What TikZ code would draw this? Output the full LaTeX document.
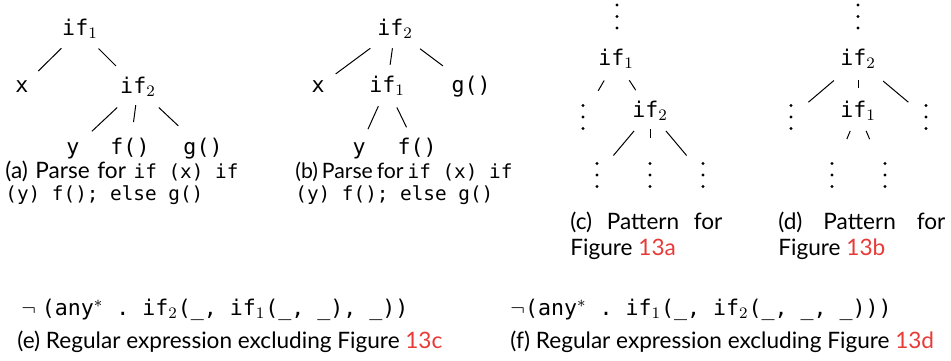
\documentclass[tikz,border=0pt]{standalone}
\usepackage{fontspec}
\setsansfont{Lato}
\setmonofont{DejaVu Sans Mono}
\usetikzlibrary{calc}
\definecolor{refred}{RGB}{232,58,55}
\newcommand\tedge[4]{\draw[edge] ($(#1)!#3!(#2)$) -- ($(#1)!#4!(#2)$);}
\newcommand\cm[1]{{\fontsize{9.67}{12}\selectfont\ttfamily #1}}
\newcommand\ex[1]{{\fontsize{10.8}{13}\selectfont\ttfamily #1}}
\newcommand\rref[1]{\textcolor{refred}{#1}}
\newcommand\fsp{\hskip 2pt plus 1fil\relax}
\newcommand\tsp{\hskip 2pt plus 1fil minus 1pt\relax}
\newcommand\vdn[3]{\node[vd] (#1) at (#2,#3) {};
  \fill (#1.center) ++(0,-11.5) circle[radius=1.6] (#1.center) circle[radius=1.6] (#1.center) ++(0,11.5) circle[radius=1.6];}
\begin{document}
\begin{tikzpicture}[x=0.5pt,y=-0.5pt,
  tl/.style={font=\fontsize{10.8}{13}\selectfont\ttfamily, inner sep=0pt, anchor=base, text height=7pt, text depth=2pt},
  vd/.style={inner sep=0pt, minimum width=4pt, minimum height=15pt, anchor=center},
  edge/.style={line width=0.5pt},
  captext/.style={font=\sffamily\fontsize{11.3}{13.5}\selectfont, inner sep=0pt, anchor=base west}]
\useasboundingbox (0,0) rectangle (951,360);
% (a)
\node[tl] (a1) at (80,35) {if$_1$};
\node[tl] (ax) at (22,92) {x};
\node[tl] (a2) at (138,93) {if$_2$};
\node[tl] (ay) at (73,154) {y};
\node[tl] (af) at (130,154) {f()};
\node[tl] (ag) at (203,154) {g()};
\tedge{a1}{ax}{0.32}{0.72}
\tedge{a1}{a2}{0.32}{0.62}
\tedge{a2}{ay}{0.32}{0.71}
\tedge{a2}{af}{0.28}{0.56}
\tedge{a2}{ag}{0.32}{0.62}
% (b)
\node[tl] (b2) at (395,35) {if$_2$};
\node[tl] (bx) at (318,92) {x};
\node[tl] (b1) at (387,92) {if$_1$};
\node[tl] (bg) at (471,92) {g()};
\node[tl] (by) at (359,154) {y};
\node[tl] (bf) at (417,154) {f()};
\tedge{b2}{bx}{0.32}{0.77}
\tedge{b2}{b1}{0.32}{0.61}
\tedge{b2}{bg}{0.33}{0.63}
\tedge{b1}{by}{0.31}{0.68}
\tedge{b1}{bf}{0.33}{0.65}
% (c)
\vdn{ct}{617}{16.5}
\node[tl] (c1) at (616,65) {if$_1$};
\vdn{cl}{583}{117}
\node[tl] (c2) at (650,117) {if$_2$};
\vdn{cbl}{597}{175}
\vdn{cbm}{650}{175}
\vdn{cbr}{703}{175}
\tedge{c1}{cl}{0.36}{0.54}
\tedge{c1}{c2}{0.39}{0.58}
\tedge{c2}{cbl}{0.30}{0.69}
\tedge{c2}{cbm}{0.27}{0.41}
\tedge{c2}{cbr}{0.30}{0.69}
% (d)
\vdn{dt}{858}{16.5}
\node[tl] (d2) at (858,65) {if$_2$};
\node[tl] (d1) at (858,117) {if$_1$};
\vdn{dl}{791}{117}
\vdn{dr}{926}{117}
\vdn{dbl}{832}{175}
\vdn{dbr}{885}{175}
\tedge{d2}{dl}{0.36}{0.74}
\tedge{d2}{d1}{0.38}{0.54}
\tedge{d2}{dr}{0.37}{0.74}
\tedge{d1}{dbl}{0.30}{0.43}
\tedge{d1}{dbr}{0.30}{0.43}
% captions
\node[captext] (capa1) at (5,178) {\hbox to 116.5pt{(a)\fsp Parse\fsp for\fsp \cm{if (x) if}}};
\node[captext] (capa2) at (5,200) {\cm{(y) f(); else g()}};
\node[captext] (capb1) at (295,178) {\hbox to 108.5pt{\fontsize{10.6}{13}\selectfont(b)\tsp Parse\tsp for\tsp \cm{if (x) if}}};
\node[captext] (capb2) at (295,200) {\cm{(y) f(); else g()}};
\node[captext] (capc1) at (570,229) {\hbox to 76pt{(c)\fsp Pattern\fsp for}};
\node[captext] (capc2) at (570,255) {Figure \rref{13a}};
\node[captext] (capd1) at (778,229) {\hbox to 83.5pt{(d)\fsp Pattern\fsp for}};
\node[captext] (capd2) at (778,255) {Figure \rref{13b}};
\node[captext] (expe) at (21,315) {{\fontsize{11}{13}\selectfont$\neg$}\ \ex{(any}$^*$\ex{ . if}$_2$\ex{(\_, if}$_1$\ex{(\_, \_), \_))}};
\node[captext] (cape) at (17,348) {(e) Regular expression excluding Figure \rref{13c}};
\node[captext] (expf) at (510,315) {{\fontsize{11}{13}\selectfont$\neg$}\ex{(any}$^*$\ex{ . if}$_1$\ex{(\_, if}$_2$\ex{(\_, \_, \_)))}};
\node[captext] (capf) at (510,348) {(f) Regular expression excluding Figure \rref{13d}};
\end{tikzpicture}
\end{document}
